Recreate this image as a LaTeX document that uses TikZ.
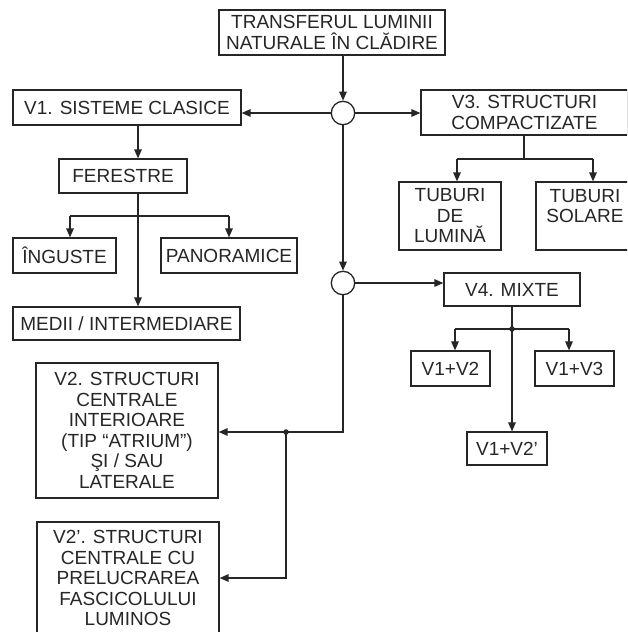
\documentclass[tikz,border=0pt]{standalone}
\usepackage{fontspec}
\setmainfont{Liberation Sans}
\usetikzlibrary{arrows.meta}
\definecolor{ink}{HTML}{262626}
\begin{document}
\begin{tikzpicture}[x=1pt,y=-1pt,
  box/.style={draw=ink, line width=1.2pt, align=center, inner sep=0pt, font=\fontsize{19}{20.5}\selectfont, text=ink},
  conn/.style={draw=ink, line width=1.3pt},
  arr/.style={conn, -{Triangle[length=9pt,width=7.5pt]}},
  junc/.style={circle, draw=ink, fill=white, line width=1.3pt, minimum size=23.4pt, inner sep=0pt},
  dot/.style={circle, fill=ink, inner sep=0pt, minimum size=5.5pt}]
\useasboundingbox (0,0) rectangle (627,632);
\clip (0,0) rectangle (627,632);
\fill[white] (0,0) rectangle (627,632);

\node[box, minimum width=226pt, minimum height=45pt] (top) at (332,32.5) {TRANSFERUL LUMINII\\NATURALE ÎN CLĂDIRE};
\node[junc] (c1) at (343,113) {};
\node[box, minimum width=228pt, minimum height=35pt] (v1) at (127,107.5) {V1. SISTEME CLASICE};
\node[box, minimum width=207pt, minimum height=45pt] (v3) at (524.5,112.5) {V3. STRUCTURI\\COMPACTIZATE};
\node[box, minimum width=102pt, minimum height=68pt] (tl) at (450,216) {TUBURI\\DE\\LUMINĂ};
\node[box, minimum width=98pt, minimum height=68pt] (ts) at (585,216) {TUBURI\\SOLARE\\\phantom{L}};
\node[box, minimum width=128pt, minimum height=34pt] (fer) at (123,176) {FERESTRE};
\node[box, minimum width=103pt, minimum height=35pt] (ing) at (64.5,255.5) {ÎNGUSTE};
\node[box, minimum width=136pt, minimum height=35pt] (pan) at (229,255.5) {PANORAMICE};
\node[box, minimum width=227pt, minimum height=33pt] (med) at (126.5,323.5) {MEDII / INTERMEDIARE};
\node[junc] (c2) at (343,283) {};
\node[box, minimum width=136pt, minimum height=33pt] (v4) at (512,289.5) {V4. MIXTE};
\node[box, minimum width=79pt, minimum height=35pt] (v12) at (450.5,368.5) {V1+V2};
\node[box, minimum width=79pt, minimum height=35pt] (v13) at (574.5,368.5) {V1+V3};
\node[box, minimum width=80pt, minimum height=33pt] (v12p) at (507,448.5) {V1+V2'};
\node[box, minimum width=182pt, minimum height=135pt] (v2) at (127,430.5) {V2. STRUCTURI\\CENTRALE\\INTERIOARE\\(TIP “ATRIUM”)\\ŞI / SAU\\LATERALE};
\node[box, minimum width=182pt, minimum height=112pt] (v2p) at (128,578) {V2'. STRUCTURI\\CENTRALE CU\\PRELUCRAREA\\FASCICOLULUI\\LUMINOS};

% central spine
\draw[arr] (top.south -| c1) -- (c1.north);
\draw[arr] (c1.west) -- (c1.west -| v1.east);
\draw[arr] (c1.east) -- (c1.east -| v3.west);
\draw[arr] (c1.south) -- (c2.north);
\draw[arr] (c2.east) -- (c2.east -| v4.west);
\coordinate (k2) at (343,432);
\coordinate (j2) at (286,432);
\coordinate (k3) at (286,578);
\draw[conn] (c2.south) -- (k2) -- (j2);
\draw[arr] (j2) -- (j2 -| v2.east);
\draw[arr] (j2) -- (k3) -- (v2p.east);
\node[dot] (d2) at (j2) {};

% V1 branch
\coordinate (fx) at (138,216);
\coordinate (bl) at (70,216);
\coordinate (br) at (229,216);
\draw[arr] (v1.south -| fx) -- (fer.north -| fx);
\draw[arr] (fer.south -| fx) -- (med.north -| fx);
\draw[conn] (bl) -- (br);
\draw[arr] (bl) -- (ing.north -| bl);
\draw[arr] (br) -- (pan.north -| br);

% V3 branch
\coordinate (t3) at (524,159);
\coordinate (l3) at (457,159);
\coordinate (r3) at (593,159);
\draw[conn] (v3.south -| t3) -- (t3);
\draw[conn] (l3) -- (r3);
\draw[arr] (l3) -- (tl.north -| l3);
\draw[arr] (r3) -- (ts.north -| r3);

% V4 branch
\coordinate (j4) at (512,329);
\coordinate (l4) at (455,329);
\coordinate (r4) at (569,329);
\draw[arr] (v4.south -| j4) -- (v12p.north -| j4);
\draw[conn] (l4) -- (r4);
\draw[arr] (l4) -- (v12.north -| l4);
\draw[arr] (r4) -- (v13.north -| r4);
\node[dot] (d4) at (j4) {};
\end{tikzpicture}
\end{document}
